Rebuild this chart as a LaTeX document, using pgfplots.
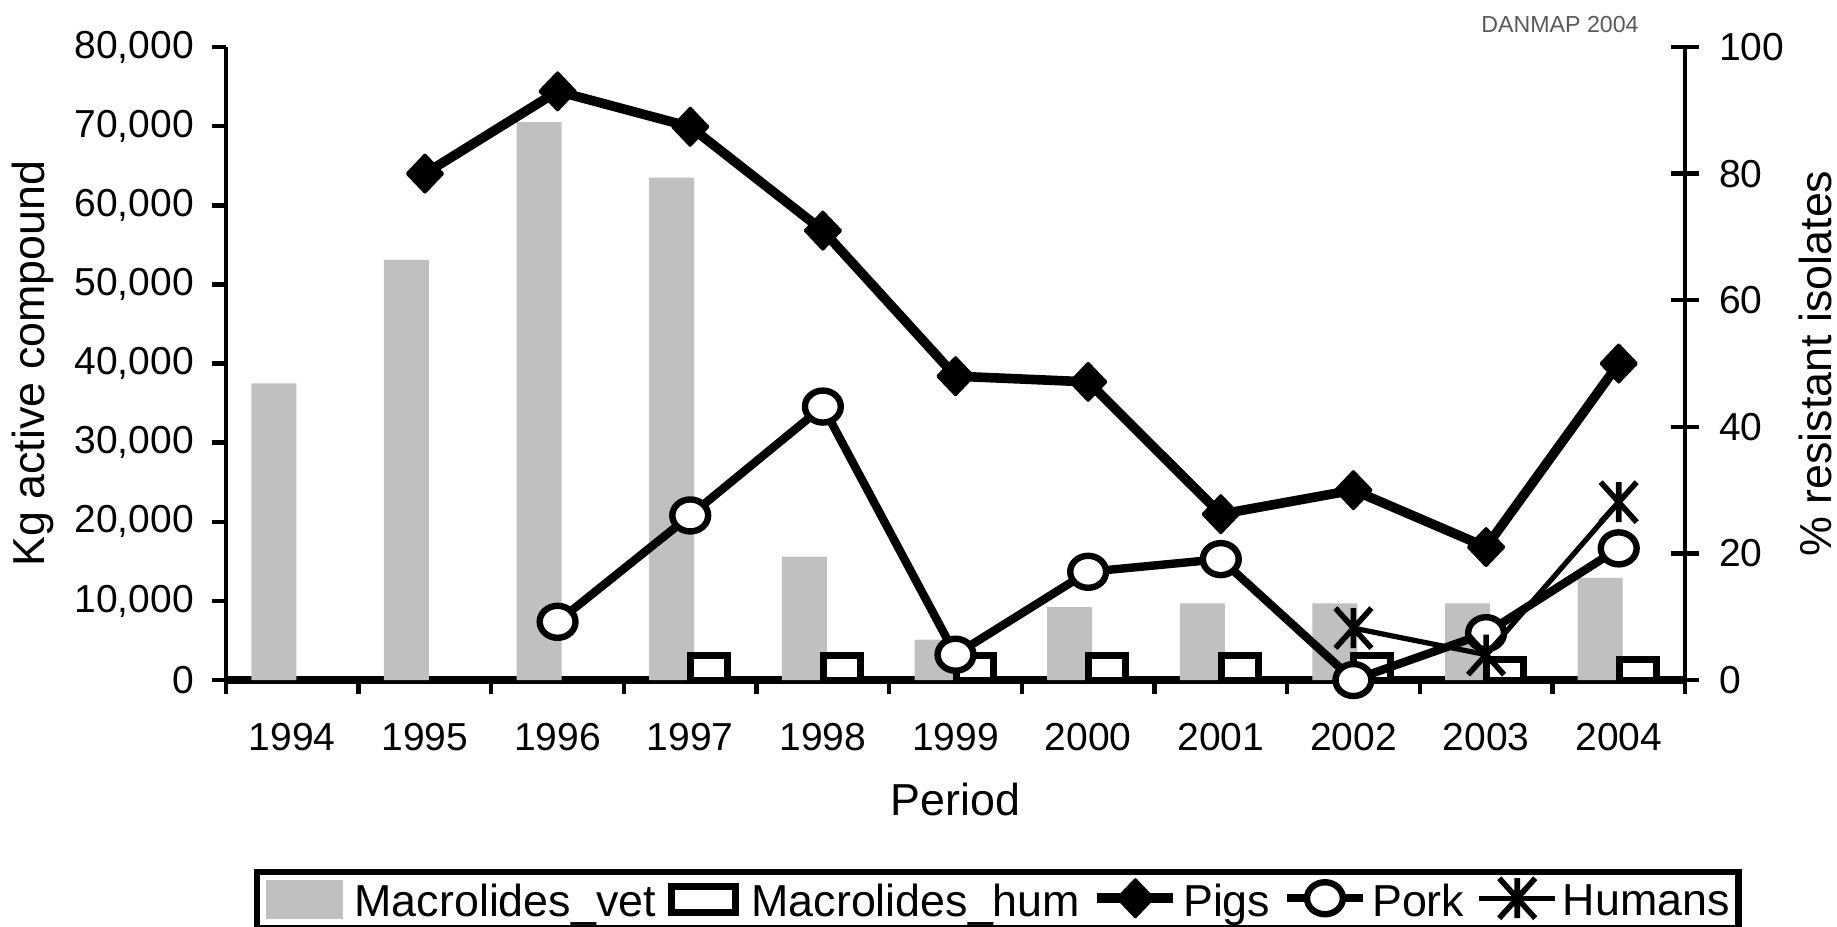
\documentclass[border=0pt]{standalone}
\usepackage{fontspec}
\setmainfont{Liberation Sans}
\usepackage{pgfplots}
\pgfplotsset{compat=1.18}
\definecolor{vetgray}{RGB}{192,192,192}
\newcommand\tickfont{\fontsize{9.75}{11}\selectfont}
\newcommand\titlefont{\fontsize{11.2}{13}\selectfont}
\pgfdeclareplotmark{xstar}{%
  \pgfpathmoveto{\pgfqpoint{-.9\pgfplotmarksize}{-\pgfplotmarksize}}%
  \pgfpathlineto{\pgfqpoint{.9\pgfplotmarksize}{\pgfplotmarksize}}%
  \pgfpathmoveto{\pgfqpoint{-.9\pgfplotmarksize}{\pgfplotmarksize}}%
  \pgfpathlineto{\pgfqpoint{.9\pgfplotmarksize}{-\pgfplotmarksize}}%
  \pgfpathmoveto{\pgfqpoint{0pt}{-\pgfplotmarksize}}%
  \pgfpathlineto{\pgfqpoint{0pt}{\pgfplotmarksize}}%
  \pgfusepathqstroke}
\begin{document}
\begin{tikzpicture}
\begin{axis}[
  scale only axis, width=364.75pt, height=158.25pt,
  xmin=-0.5, xmax=10.5, ymin=0, ymax=80000,
  axis x line*=bottom, axis y line*=left,
  x axis line style={line width=1.9pt,-},
  y axis line style={line width=1.1pt,-},
  xtick={-0.5,0.5,...,10.5},
  xticklabels={1994,1995,1996,1997,1998,1999,2000,2001,2002,2003,2004},
  x tick label as interval,
  ytick={0,10000,...,80000},
  yticklabels={0,{10,000},{20,000},{30,000},{40,000},{50,000},{60,000},{70,000},{80,000}},
  scaled y ticks=false,
  tick align=outside, major tick length=3.5pt,
  tick style={line width=1.1pt, black},
  xticklabel style={font=\tickfont, anchor=base, yshift=-14pt},
  yticklabel style={font=\tickfont, xshift=-1pt},
  xlabel={Period}, ylabel={Kg active compound},
  xlabel style={font=\titlefont, at={(axis description cs:0.5,-0.2133)}, anchor=base},
  ylabel style={font=\titlefont, at={(axis description cs:-0.1326,0.5)}, anchor=center},
]
\addplot[ybar, bar width=11.25pt, bar shift=-4.625pt, fill=vetgray, draw=none]
  coordinates {(0,37500) (1,53100) (2,70500) (3,63500) (4,15600) (5,5100) (6,9200) (7,9700) (8,9700) (9,9700) (10,12900)};
\addplot[ybar, bar width=9.25pt, bar shift=4.75pt, fill=white, draw=black, line width=1.75pt]
  coordinates {(3,3100) (4,3100) (5,3100) (6,3100) (7,3100) (8,3100) (9,2600) (10,2600)};
\end{axis}
\begin{axis}[
  scale only axis, width=364.75pt, height=158.25pt,
  xmin=-0.5, xmax=10.5, ymin=0, ymax=100,
  axis x line=none, axis y line*=right,
  y axis line style={line width=1.1pt,-},
  ytick={0,20,...,100}, yticklabels={0,20,40,60,80,100},
  tick align=center, major tick length=7pt,
  tick style={line width=1.1pt, black},
  yticklabel style={font=\tickfont, xshift=1.5pt},
  ylabel={\% resistant isolates},
  ylabel style={font=\titlefont, at={(axis description cs:1.0891,0.5)}, anchor=center},
  clip=false,
  legend columns=5,
  legend image code/.code={\draw[mark repeat=2,mark phase=2] plot coordinates {(0pt,1.25pt) (9.5pt,1.25pt) (19pt,1.25pt)};},
  legend style={at={(0.01919,-0.2986)}, anchor=north west, draw=black, line width=1.6pt,
    font=\titlefont, inner xsep=2.25pt, inner ysep=1.5pt,
    nodes={inner sep=0pt, text depth=0.15em},
    /tikz/every odd column/.append style={column sep=1.25pt},
    /tikz/every even column/.append style={column sep=3.1pt}},
]
\addlegendimage{legend image code/.code={\fill[vetgray] (0pt,-3.25pt) rectangle (17.5pt,5pt); \path (19.25pt,0pt);}}
\addlegendentry{Macrolides\_vet}
\addlegendimage{legend image code/.code={\draw[line width=1.75pt, fill=white] (0.875pt,-2.375pt) rectangle (16.875pt,4.125pt); \path (18.75pt,0pt);}}
\addlegendentry{Macrolides\_hum}
\addplot[black, line width=2.4pt, line join=round, mark=diamond*, mark size=4.6pt,
  mark options={solid, fill=black, line width=0.8pt, xscale=1.27}]
  coordinates {(1,80.0) (2,93.0) (3,87.4) (4,71.0) (5,48.0) (6,47.1) (7,26.2) (8,30.0) (9,21.0) (10,50.0)};
\addlegendentry{Pigs}
\addplot[black, line width=2.1pt, line join=round, mark=*, mark size=4pt,
  mark options={solid, fill=white, line width=1.6pt, xscale=1.12}]
  coordinates {(2,9.2) (3,26.0) (4,43.2) (5,4.0) (6,17.1) (7,19.1) (8,0) (9,7.4) (10,20.8)};
\addlegendentry{Pork}
\addplot[black, line width=1.3pt, line join=round, mark=xstar, mark size=5pt,
  mark options={solid, line width=1.4pt}]
  coordinates {(8,8.2) (9,4.0) (10,28.1)};
\addlegendentry{Humans}
\node[font=\fontsize{5.8}{7}\selectfont, text=black!65] at (rel axis cs:0.9143,1.0355) {DANMAP 2004};
\end{axis}
\pgfresetboundingbox
\path[use as bounding box] (-56.5pt,-61.5pt) rectangle (402.75pt,170pt);
\end{tikzpicture}
\end{document}
